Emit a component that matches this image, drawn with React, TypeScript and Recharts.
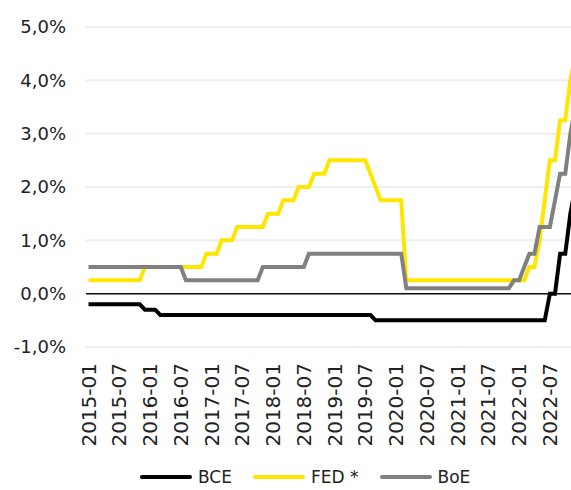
import { LineChart, Line, XAxis, YAxis, CartesianGrid, ReferenceLine, Legend } from 'recharts';

// monthly, 2015-01 .. 2022-12 (last month sits just past the right edge)
const years = [2015, 2016, 2017, 2018, 2019, 2020, 2021, 2022];
const months = years.flatMap((y) =>
  Array.from({ length: 12 }, (_, m) => `${y}-${String(m + 1).padStart(2, '0')}`)
);

const bce = [
  -0.2, -0.2, -0.2, -0.2, -0.2, -0.2, -0.2, -0.2, -0.2, -0.2, -0.2, -0.3,
  -0.3, -0.3, -0.4, -0.4, -0.4, -0.4, -0.4, -0.4, -0.4, -0.4, -0.4, -0.4,
  -0.4, -0.4, -0.4, -0.4, -0.4, -0.4, -0.4, -0.4, -0.4, -0.4, -0.4, -0.4,
  -0.4, -0.4, -0.4, -0.4, -0.4, -0.4, -0.4, -0.4, -0.4, -0.4, -0.4, -0.4,
  -0.4, -0.4, -0.4, -0.4, -0.4, -0.4, -0.4, -0.4, -0.5, -0.5, -0.5, -0.5,
  -0.5, -0.5, -0.5, -0.5, -0.5, -0.5, -0.5, -0.5, -0.5, -0.5, -0.5, -0.5,
  -0.5, -0.5, -0.5, -0.5, -0.5, -0.5, -0.5, -0.5, -0.5, -0.5, -0.5, -0.5,
  -0.5, -0.5, -0.5, -0.5, -0.5, -0.5, 0, 0, 0.75, 0.75, 1.5, 2.0,
];

const fed = [
  0.25, 0.25, 0.25, 0.25, 0.25, 0.25, 0.25, 0.25, 0.25, 0.25, 0.25, 0.5,
  0.5, 0.5, 0.5, 0.5, 0.5, 0.5, 0.5, 0.5, 0.5, 0.5, 0.5, 0.75,
  0.75, 0.75, 1.0, 1.0, 1.0, 1.25, 1.25, 1.25, 1.25, 1.25, 1.25, 1.5,
  1.5, 1.5, 1.75, 1.75, 1.75, 2.0, 2.0, 2.0, 2.25, 2.25, 2.25, 2.5,
  2.5, 2.5, 2.5, 2.5, 2.5, 2.5, 2.5, 2.25, 2.0, 1.75, 1.75, 1.75,
  1.75, 1.75, 0.25, 0.25, 0.25, 0.25, 0.25, 0.25, 0.25, 0.25, 0.25, 0.25,
  0.25, 0.25, 0.25, 0.25, 0.25, 0.25, 0.25, 0.25, 0.25, 0.25, 0.25, 0.25,
  0.25, 0.25, 0.5, 0.5, 1.0, 1.75, 2.5, 2.5, 3.25, 3.25, 4.0, 4.5,
];

const boe = [
  0.5, 0.5, 0.5, 0.5, 0.5, 0.5, 0.5, 0.5, 0.5, 0.5, 0.5, 0.5,
  0.5, 0.5, 0.5, 0.5, 0.5, 0.5, 0.5, 0.25, 0.25, 0.25, 0.25, 0.25,
  0.25, 0.25, 0.25, 0.25, 0.25, 0.25, 0.25, 0.25, 0.25, 0.25, 0.5, 0.5,
  0.5, 0.5, 0.5, 0.5, 0.5, 0.5, 0.5, 0.75, 0.75, 0.75, 0.75, 0.75,
  0.75, 0.75, 0.75, 0.75, 0.75, 0.75, 0.75, 0.75, 0.75, 0.75, 0.75, 0.75,
  0.75, 0.75, 0.1, 0.1, 0.1, 0.1, 0.1, 0.1, 0.1, 0.1, 0.1, 0.1,
  0.1, 0.1, 0.1, 0.1, 0.1, 0.1, 0.1, 0.1, 0.1, 0.1, 0.1, 0.25,
  0.25, 0.5, 0.75, 0.75, 1.25, 1.25, 1.25, 1.75, 2.25, 2.25, 3.0, 3.5,
];

const yTicks = [-1, 0, 1, 2, 3, 4, 5];

const series = [
  { key: 'bce', name: 'BCE', color: '#000000' },
  { key: 'fed', name: 'FED *', color: '#FFE600' },
  { key: 'boe', name: 'BoE', color: '#808080' },
];

const data = months.map((month, i) => ({ month, bce: bce[i], fed: fed[i], boe: boe[i] }));

const FONT = '"DejaVu Sans", Verdana, sans-serif';

const fmtPct = (v: number) => `${v.toFixed(1).replace('.', ',')}%`;

function XTick({ x, y, payload }: any) {
  return (
    <text
      x={x}
      y={y}
      transform={`rotate(-90 ${x} ${y})`}
      textAnchor="end"
      dominantBaseline="central"
      fontSize={20}
      fontFamily={FONT}
      fill="#222"
    >
      {payload.value}
    </text>
  );
}

function YTick({ x, y, payload }: any) {
  return (
    <text x={x} y={y} dy="0.36em" textAnchor="end" fontSize={18} fontFamily={FONT} fill="#222">
      {fmtPct(payload.value)}
    </text>
  );
}

function LegendContent() {
  return (
    <div
      style={{
        display: 'flex',
        alignItems: 'center',
        height: 18,
        lineHeight: '18px',
        paddingLeft: 140,
        fontFamily: FONT,
        fontSize: 17,
        color: '#222',
      }}
    >
      {series.map((s) => (
        <div key={s.key} style={{ display: 'flex', alignItems: 'center', marginRight: 21 }}>
          <span style={{ width: 52, height: 4, borderRadius: 2, background: s.color, marginRight: 6 }} />
          <span>{s.name}</span>
        </div>
      ))}
    </div>
  );
}

export default function App() {
  return (
    <div style={{ position: 'absolute', left: 0, top: 0, width: 571, height: 490, overflow: 'hidden', background: '#fff' }}>
      <LineChart width={576} height={490} data={data} margin={{ top: 27, right: 0, left: 0, bottom: 0 }}>
        <CartesianGrid vertical={false} stroke="#eeeeee" strokeWidth={2} />
        <XAxis
          dataKey="month"
          interval={5}
          axisLine={false}
          tickLine={false}
          tickMargin={10}
          height={143}
          padding={{ left: 2.5, right: 0.5 }}
          tick={<XTick />}
        />
        <YAxis
          domain={[-1, 5]}
          ticks={yTicks}
          width={86}
          axisLine={false}
          tickLine={false}
          tickMargin={14}
          tick={<YTick />}
        />
        <ReferenceLine y={0} stroke="#111" strokeWidth={1.5} />
        <Legend verticalAlign="middle" content={<LegendContent />} wrapperStyle={{ top: 468, left: 0, width: 571 }} />
        {series.map((s) => (
          <Line
            key={s.key}
            dataKey={s.key}
            name={s.name}
            stroke={s.color}
            strokeWidth={4}
            dot={false}
            type="linear"
            isAnimationActive={false}
          />
        ))}
      </LineChart>
    </div>
  );
}
